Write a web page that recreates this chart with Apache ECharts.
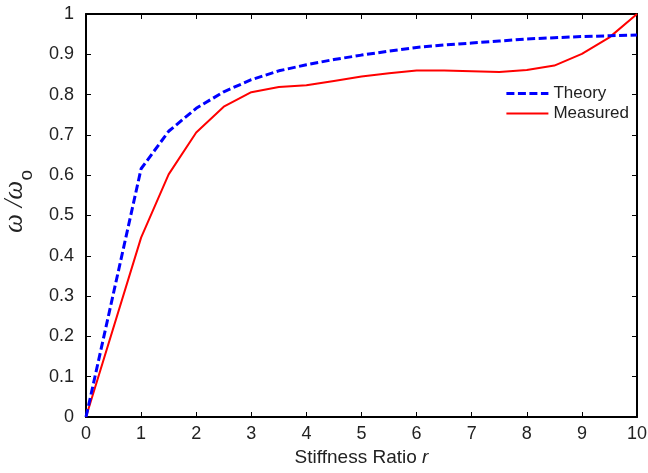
<!DOCTYPE html>
<html><head><meta charset="utf-8">
<script src="https://cdn.jsdelivr.net/npm/echarts@6/dist/echarts.min.js"></script>
<style>html,body{margin:0;padding:0;background:#fff}#c{width:648px;height:473px}</style>
</head><body><div id="c"></div>
<script>
const xValues = [0, 1, 1.5, 2, 2.5, 3, 3.5, 4, 4.5, 5, 5.5, 6, 6.5, 7, 7.5, 8, 8.5, 9, 9.5, 10];
const theory = [0, 0.616, 0.709, 0.766, 0.807, 0.837, 0.859, 0.874, 0.887, 0.898, 0.908, 0.917, 0.923, 0.928, 0.933, 0.938, 0.941, 0.944, 0.946, 0.948];
const measured = [0, 0.445, 0.602, 0.706, 0.770, 0.806, 0.819, 0.823, 0.834, 0.845, 0.853, 0.860, 0.860, 0.858, 0.856, 0.861, 0.872, 0.901, 0.942, 1.0];
const seriesNames = ['Theory', 'Measured'];

const pairs = arr => xValues.map((x, i) => [x, arr[i]]);
const font = 'Liberation Sans, Arial, sans-serif';
const axisCommon = {
  type: 'value',
  axisLine: { show: true, onZero: false, lineStyle: { color: '#000', width: 2 } },
  axisTick: { show: true, inside: true, length: 5, lineStyle: { color: '#000', width: 1 } },
  splitLine: { show: false },
};
const chart = echarts.init(document.getElementById('c'));
chart.setOption({
  animation: false,
  grid: { left: 86, right: 11, top: 14, bottom: 56, outerBoundsMode: 'none', containLabel: false },
  legend: {
    right: 14, top: 80, orient: 'vertical', itemGap: 3, itemWidth: 42, itemHeight: 14,
    textStyle: { fontFamily: font, fontSize: 17, color: '#222' },
    itemStyle: { opacity: 0 },
    data: [
      { name: seriesNames[0], lineStyle: { width: 3, type: [8, 3.5], color: '#0000ff' } },
      { name: seriesNames[1], lineStyle: { width: 2, color: '#ff0000' } }
    ]
  },
  xAxis: [
    Object.assign({}, axisCommon, {
      min: 0, max: 10, interval: 1, position: 'bottom',
      axisLabel: { fontFamily: font, fontSize: 18, color: '#222', margin: 8 },
      name: '{a|Stiffness Ratio }{b|r}', nameLocation: 'middle', nameGap: 31,
      nameTextStyle: { rich: {
        a: { fontFamily: font, fontSize: 19, color: '#222' },
        b: { fontFamily: font, fontSize: 19, fontStyle: 'italic', color: '#222' } } }
    }),
    Object.assign({}, axisCommon, { min: 0, max: 10, interval: 1, position: 'top', axisLabel: { show: false } })
  ],
  yAxis: [
    Object.assign({}, axisCommon, {
      min: 0, max: 1, interval: 0.1, position: 'left',
      axisLabel: { fontFamily: font, fontSize: 18, color: '#222', margin: 12 },
      name: '{a|ω /ω}{b|o}', nameLocation: 'middle', nameGap: 50,
      nameTextStyle: { padding: [0, 0, 0, 28], rich: {
        a: { fontFamily: 'Liberation Serif, serif', fontStyle: 'italic', fontSize: 27, color: '#222', verticalAlign: 'top', lineHeight: 30 },
        b: { fontFamily: font, fontSize: 19, color: '#222', verticalAlign: 'bottom', padding: [16, 0, 0, 0] } } }
    }),
    Object.assign({}, axisCommon, { min: 0, max: 1, interval: 0.1, position: 'right', axisLabel: { show: false } })
  ],
  series: [
    { name: seriesNames[0], type: 'line', data: pairs(theory), symbol: 'none', z: 3,
      lineStyle: { color: '#0000ff', width: 3, type: [8, 3.5] }, itemStyle: { color: '#0000ff' } },
    { name: seriesNames[1], type: 'line', data: pairs(measured), symbol: 'none', z: 2,
      lineStyle: { color: '#ff0000', width: 2 }, itemStyle: { color: '#ff0000' } }
  ]
});
</script></body></html>
